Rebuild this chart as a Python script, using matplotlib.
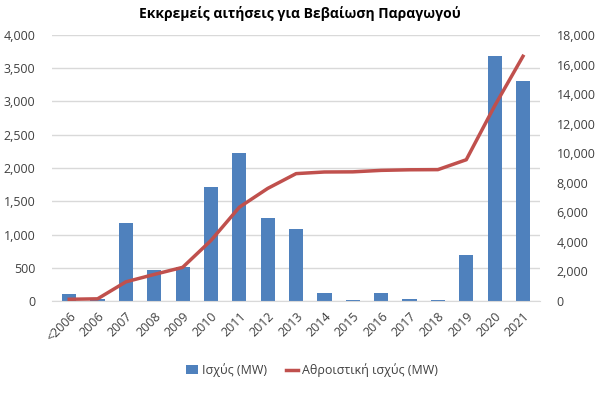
import matplotlib
matplotlib.use("Agg")
import matplotlib.pyplot as plt
from matplotlib.ticker import FuncFormatter

plt.rcParams['font.family'] = ['Open Sans', 'DejaVu Sans']

# Data
years = ['<2006', '2006', '2007', '2008', '2009', '2010', '2011', '2012', '2013',
         '2014', '2015', '2016', '2017', '2018', '2019', '2020', '2021']
capacity = [100, 35, 1180, 465, 515, 1710, 2220, 1250, 1085,
            115, 10, 125, 25, 20, 685, 3685, 3310]
cumulative = [120, 150, 1300, 1800, 2280, 4100, 6350, 7620, 8620,
              8730, 8740, 8840, 8880, 8890, 9560, 13200, 16560]

fig = plt.figure(figsize=(6.0, 3.93), dpi=100)
ax = fig.add_axes([0.087, 0.234, 0.813, 0.677])
ax2 = ax.twinx()

x = list(range(len(years)))
bars = ax.bar(x, capacity, width=0.5, color='#4F81BD', zorder=2,
              label='Ισχύς (MW)')
line, = ax2.plot(x, cumulative, color='#C0504D', linewidth=2.5, zorder=3,
                 label='Αθροιστική ισχύς (MW)')

ax.set_ylim(0, 4000)
ax.set_yticks(range(0, 4001, 500))
ax2.set_ylim(0, 18000)
ax2.set_yticks(range(0, 18001, 2000))
ax.set_xlim(-0.6, len(years) - 0.4)

fmt = FuncFormatter(lambda v, p: f'{int(v):,}')
ax.yaxis.set_major_formatter(fmt)
ax2.yaxis.set_major_formatter(fmt)

ax.set_xticks(x)
ax.set_xticklabels(years, rotation=45, ha='right', rotation_mode='anchor')
ax.yaxis.grid(True, color='#D9D9D9', linewidth=1, zorder=0)
ax.set_axisbelow(True)

for a in (ax, ax2):
    for s in ('top', 'right', 'left'):
        a.spines[s].set_visible(False)
    a.spines['bottom'].set_color('#D9D9D9')
    a.tick_params(length=0, labelsize=9, colors='#404040')
ax2.spines['bottom'].set_visible(False)
ax.tick_params(axis='x', pad=6)
ax.tick_params(axis='y', pad=12)
ax2.tick_params(axis='y', pad=12)

ax.set_zorder(ax2.get_zorder() - 1)
ax.patch.set_visible(False)
ax2.patch.set_visible(False)

fig.suptitle('Εκκρεμείς αιτήσεις για Βεβαίωση Παραγωγού', fontsize=10,
             fontweight='bold', y=0.985)
fig.legend([bars, line], ['Ισχύς (MW)', 'Αθροιστική ισχύς (MW)'],
           loc='center', bbox_to_anchor=(0.52, 0.058), ncol=2, frameon=False,
           fontsize=9, handlelength=1.0, handletextpad=0.3, columnspacing=1.5,
           labelcolor='#404040')

plt.savefig('out.png', dpi=100)
